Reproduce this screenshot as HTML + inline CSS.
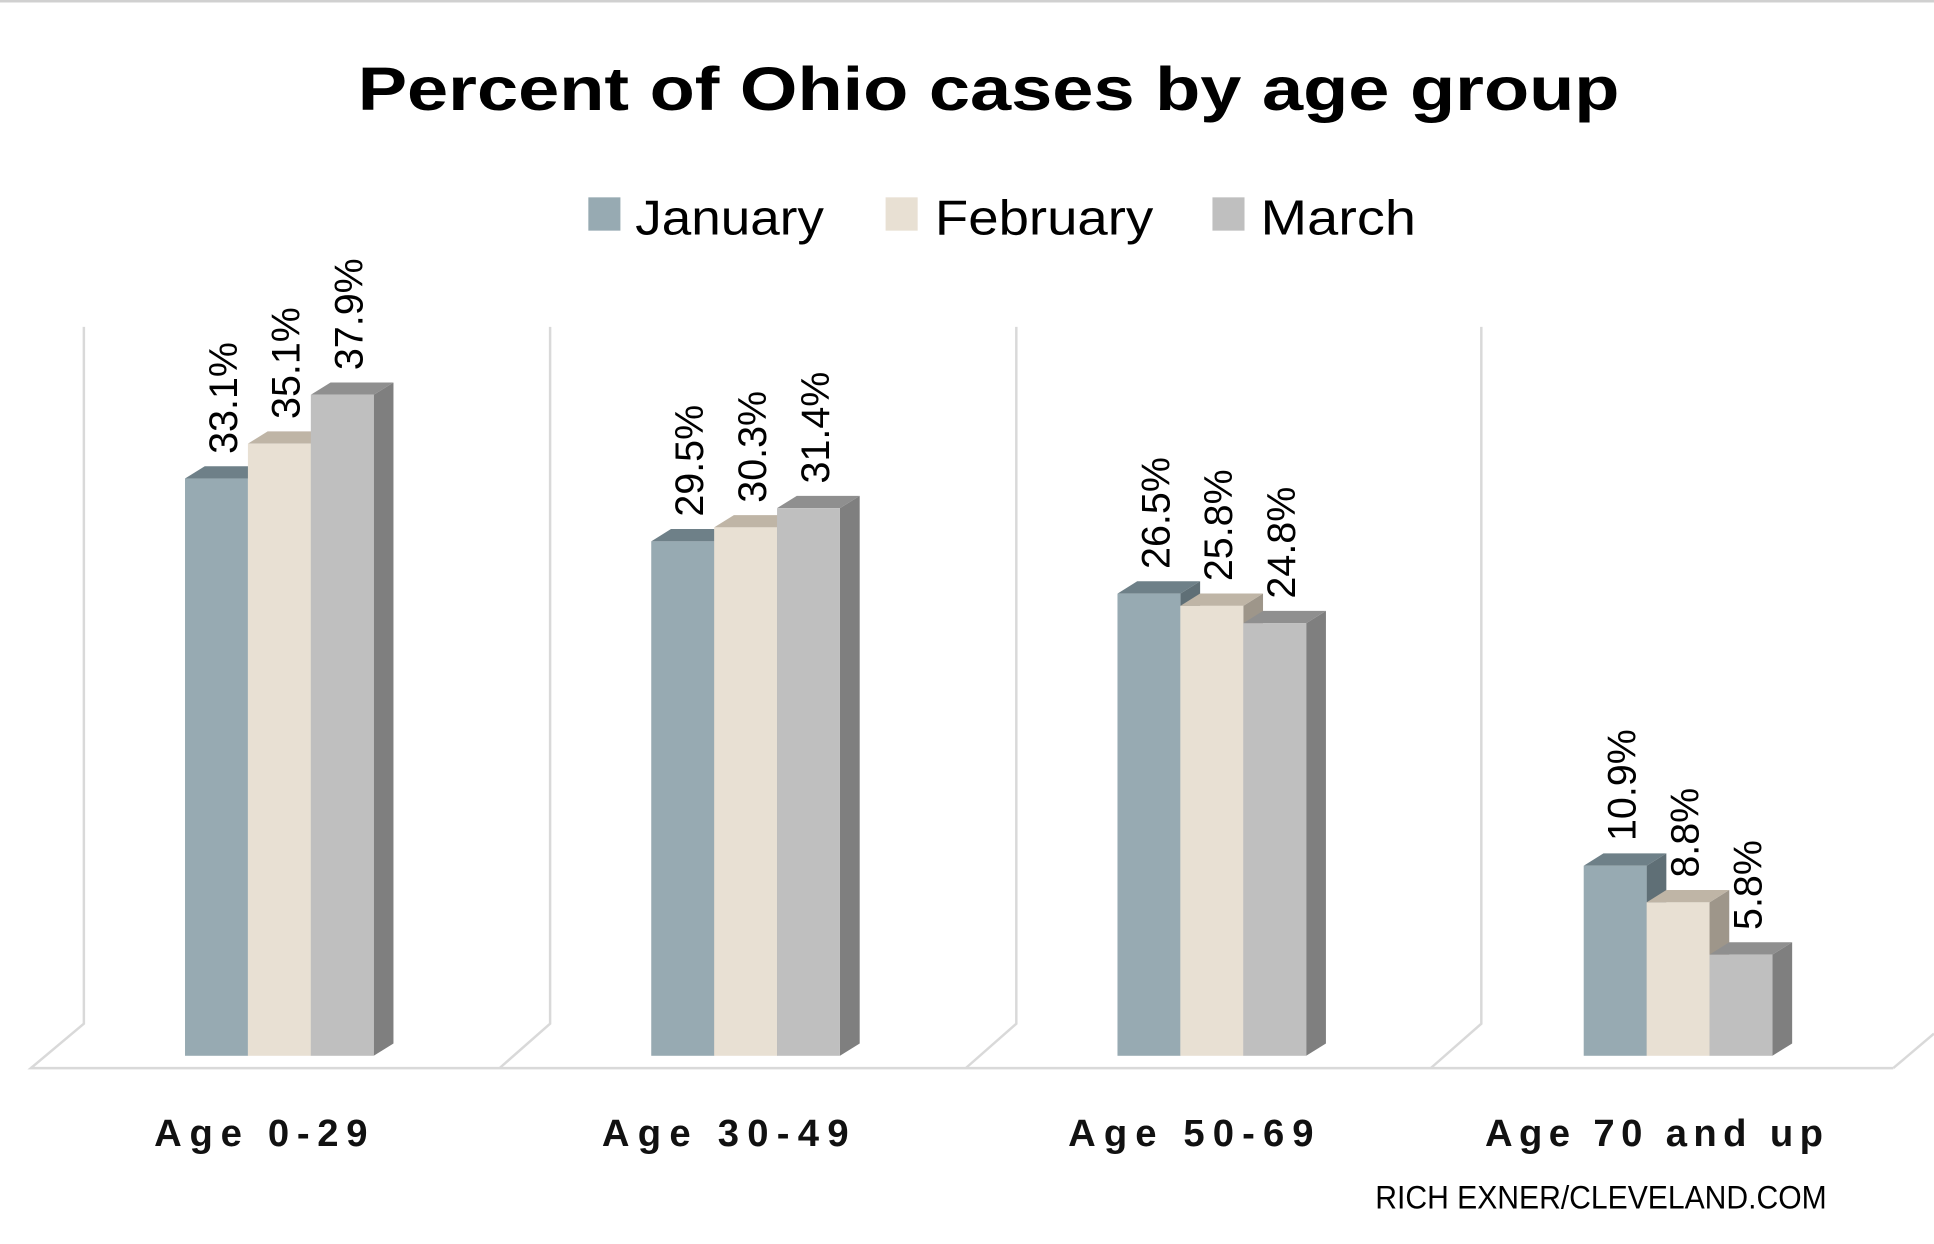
<!DOCTYPE html>
<html><head><meta charset="utf-8"><style>
html,body{margin:0;padding:0;background:#fff;}
svg{display:block;}
text{font-family:"Liberation Sans","DejaVu Sans",sans-serif;}
</style></head><body>
<svg width="1934" height="1244" viewBox="0 0 1568 1008.6" preserveAspectRatio="none" xmlns="http://www.w3.org/2000/svg">
<rect width="1568" height="1008.6" fill="#fff"/>
<line x1="0" y1="1" x2="1568" y2="1" stroke="#d0d0d0" stroke-width="2"/>
<text x="290" y="89" font-size="50" font-weight="bold" fill="#000" textLength="1023" lengthAdjust="spacingAndGlyphs">Percent of Ohio cases by age group</text>
<rect x="477" y="160" width="26" height="27" fill="#97aab2"/>
<text x="515" y="190" font-size="40" fill="#000" textLength="153" lengthAdjust="spacingAndGlyphs">January</text>
<rect x="718" y="160" width="26" height="27" fill="#e8e0d3"/>
<text x="758" y="190" font-size="40" fill="#000" textLength="177" lengthAdjust="spacingAndGlyphs">February</text>
<rect x="983" y="160" width="26" height="27" fill="#bfbfbf"/>
<text x="1022" y="190" font-size="40" fill="#000" textLength="126" lengthAdjust="spacingAndGlyphs">March</text>
<g stroke="#d9d9d9" stroke-width="2" fill="none">
<polyline points="68,265 68,830 25,866 1535,866"/>
<polyline points="446,265 446,830 405,866"/>
<polyline points="824,265 824,830 783,866"/>
<polyline points="1201,265 1201,830 1160,866"/>
<line x1="1535" y1="866" x2="1568" y2="838"/>
</g>

<polygon points="201,388 217,378 217,846 201,856" fill="#5f6f76"/>
<polygon points="150,388 201,388 217,378 166,378" fill="#6e8088"/>
<rect x="150" y="388" width="51" height="468" fill="#97aab2"/>
<polygon points="252,359.7 268,349.7 268,846 252,856" fill="#9e968a"/>
<polygon points="201,359.7 252,359.7 268,349.7 217,349.7" fill="#bfb5a6"/>
<rect x="201" y="359.7" width="51" height="496.3" fill="#e8e0d3"/>
<polygon points="303,320.1 319,310.1 319,846 303,856" fill="#7f7f7f"/>
<polygon points="252,320.1 303,320.1 319,310.1 268,310.1" fill="#8f8f8f"/>
<rect x="252" y="320.1" width="51" height="535.9" fill="#bfbfbf"/>

<polygon points="579,438.9 595,428.9 595,846 579,856" fill="#5f6f76"/>
<polygon points="528,438.9 579,438.9 595,428.9 544,428.9" fill="#6e8088"/>
<rect x="528" y="438.9" width="51" height="417.1" fill="#97aab2"/>
<polygon points="630,427.6 646,417.6 646,846 630,856" fill="#9e968a"/>
<polygon points="579,427.6 630,427.6 646,417.6 595,417.6" fill="#bfb5a6"/>
<rect x="579" y="427.6" width="51" height="428.4" fill="#e8e0d3"/>
<polygon points="681,412 697,402 697,846 681,856" fill="#7f7f7f"/>
<polygon points="630,412 681,412 697,402 646,402" fill="#8f8f8f"/>
<rect x="630" y="412" width="51" height="444" fill="#bfbfbf"/>

<polygon points="957,481.3 973,471.3 973,846 957,856" fill="#5f6f76"/>
<polygon points="906,481.3 957,481.3 973,471.3 922,471.3" fill="#6e8088"/>
<rect x="906" y="481.3" width="51" height="374.7" fill="#97aab2"/>
<polygon points="1008,491.2 1024,481.2 1024,846 1008,856" fill="#9e968a"/>
<polygon points="957,491.2 1008,491.2 1024,481.2 973,481.2" fill="#bfb5a6"/>
<rect x="957" y="491.2" width="51" height="364.8" fill="#e8e0d3"/>
<polygon points="1059,505.3 1075,495.3 1075,846 1059,856" fill="#7f7f7f"/>
<polygon points="1008,505.3 1059,505.3 1075,495.3 1024,495.3" fill="#8f8f8f"/>
<rect x="1008" y="505.3" width="51" height="350.7" fill="#bfbfbf"/>

<polygon points="1335,701.9 1351,691.9 1351,846 1335,856" fill="#5f6f76"/>
<polygon points="1284,701.9 1335,701.9 1351,691.9 1300,691.9" fill="#6e8088"/>
<rect x="1284" y="701.9" width="51" height="154.1" fill="#97aab2"/>
<polygon points="1386,731.6 1402,721.6 1402,846 1386,856" fill="#9e968a"/>
<polygon points="1335,731.6 1386,731.6 1402,721.6 1351,721.6" fill="#bfb5a6"/>
<rect x="1335" y="731.6" width="51" height="124.4" fill="#e8e0d3"/>
<polygon points="1437,774 1453,764 1453,846 1437,856" fill="#7f7f7f"/>
<polygon points="1386,774 1437,774 1453,764 1402,764" fill="#8f8f8f"/>
<rect x="1386" y="774" width="51" height="82" fill="#bfbfbf"/>

<g font-size="32" fill="#000">
<text transform="translate(192,368) rotate(-90)">33.1%</text>
<text transform="translate(243,339.7) rotate(-90)">35.1%</text>
<text transform="translate(294,300.1) rotate(-90)">37.9%</text>
<text transform="translate(570,418.9) rotate(-90)">29.5%</text>
<text transform="translate(621,407.6) rotate(-90)">30.3%</text>
<text transform="translate(672,392) rotate(-90)">31.4%</text>
<text transform="translate(948,461.3) rotate(-90)">26.5%</text>
<text transform="translate(999,471.2) rotate(-90)">25.8%</text>
<text transform="translate(1050,485.3) rotate(-90)">24.8%</text>
<text transform="translate(1326,681.9) rotate(-90)">10.9%</text>
<text transform="translate(1377,711.6) rotate(-90)">8.8%</text>
<text transform="translate(1428,754) rotate(-90)">5.8%</text>
</g>

<g font-size="31" fill="#111" font-weight="600" font-family="DejaVu Sans">
<text x="125" y="929" textLength="173" lengthAdjust="spacing">Age 0-29</text>
<text x="488" y="929" textLength="200" lengthAdjust="spacing">Age 30-49</text>
<text x="866" y="929" textLength="199" lengthAdjust="spacing">Age 50-69</text>
<text x="1204" y="929" textLength="274" lengthAdjust="spacing">Age 70 and up</text>
</g>
<text x="1115" y="980" font-size="26" fill="#000" textLength="366" lengthAdjust="spacingAndGlyphs">RICH EXNER/CLEVELAND.COM</text>
</svg>
</body></html>
